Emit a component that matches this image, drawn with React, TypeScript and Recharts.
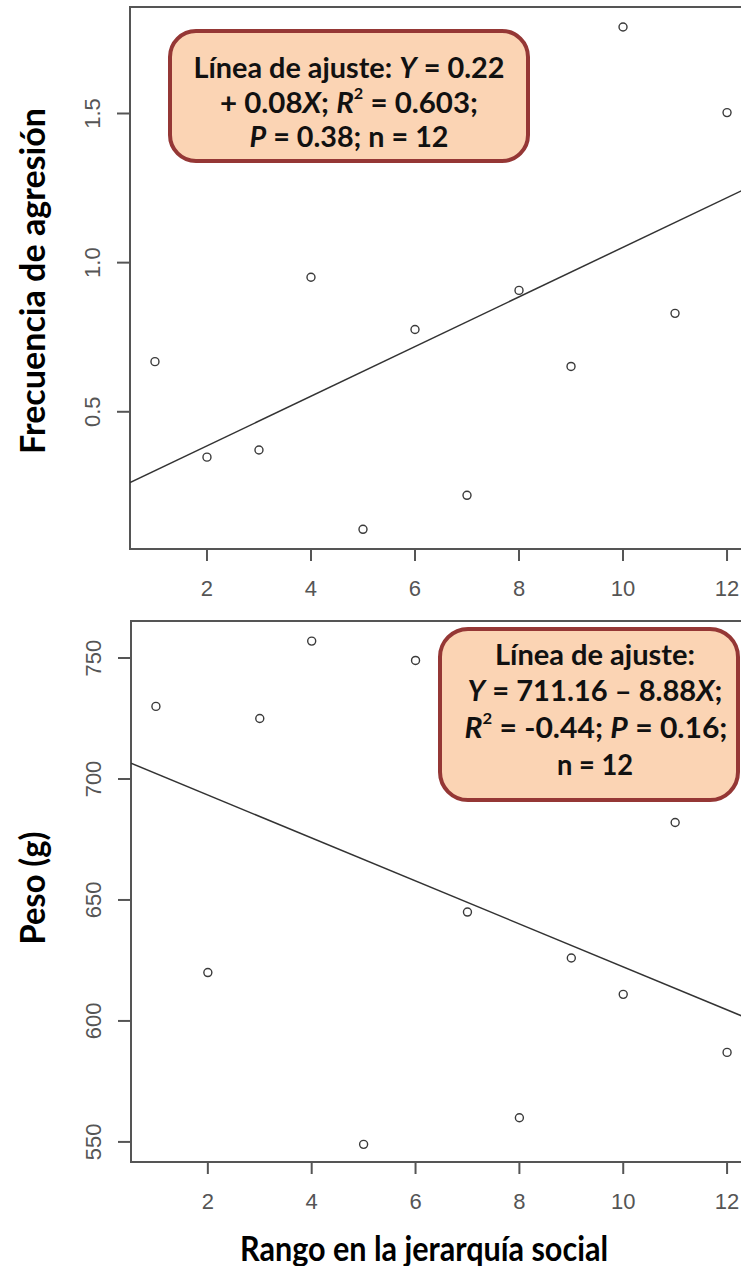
import React from "react";
import { ScatterChart, Scatter, XAxis, YAxis, ReferenceArea } from "recharts";

// Rango social (eje X) y valores
const ranks = [1, 2, 3, 4, 5, 6, 7, 8, 9, 10, 11, 12];
const aggression = [0.668, 0.348, 0.372, 0.951, 0.106, 0.776, 0.22, 0.907, 0.652, 1.79, 0.83, 1.503];
const weight = [730, 620, 725, 757, 549, 749, 645, 560, 626, 611, 682, 587];

const xTicks = [2, 4, 6, 8, 10, 12];
const aggressionTicks = [0.5, 1.0, 1.5];
const weightTicks = [550, 600, 650, 700, 750];

const xDomain: [number, number] = [0.52, 12.48];
const aggressionDomain: [number, number] = [0.04, 1.857];
const weightDomain: [number, number] = [541.7, 765.3];

const TICK_FONT = "'Liberation Sans', Arial, sans-serif";
const TITLE_FONT = "Lato, 'Open Sans', sans-serif";
const FRAME = "#555";
const INK = "#3a3a3a";

// recta de mínimos cuadrados
function leastSquares(xs: number[], ys: number[]) {
  const n = xs.length;
  const mx = xs.reduce((s, v) => s + v, 0) / n;
  const my = ys.reduce((s, v) => s + v, 0) / n;
  let sxy = 0;
  let sxx = 0;
  xs.forEach((x, i) => {
    sxy += (x - mx) * (ys[i] - my);
    sxx += (x - mx) * (x - mx);
  });
  const b = sxy / sxx;
  return { a: my - b * mx, b };
}

const XTick = (props: any) => {
  const { x, y, payload } = props;
  return (
    <text x={x} y={y + 25} textAnchor="middle" dominantBaseline="central" fontFamily={TICK_FONT} fontSize={22} fill="#555">
      {payload.value}
    </text>
  );
};

const makeYTick = (digits: number) => (props: any) => {
  const { x, y, payload } = props;
  const cx = x - 22;
  return (
    <text
      x={cx}
      y={y}
      transform={`rotate(-90, ${cx}, ${y})`}
      textAnchor="middle"
      dominantBaseline="central"
      fontFamily={TICK_FONT}
      fontSize={22}
      fill="#555"
    >
      {Number(payload.value).toFixed(digits)}
    </text>
  );
};

const OpenDot = (props: any) => {
  const { cx, cy } = props;
  return <circle cx={cx} cy={cy} r={4} fill="none" stroke={INK} strokeWidth={1.4} />;
};

const NoDot = () => <g />;

function Panel({
  ys,
  yDomain,
  yTicks,
  digits,
  height,
  top,
  xAxisHeight,
  yAxisWidth,
}: {
  ys: number[];
  yDomain: [number, number];
  yTicks: number[];
  digits: number;
  height: number;
  top: number;
  xAxisHeight: number;
  yAxisWidth: number;
}) {
  const points = ranks.map((x, i) => ({ x, y: ys[i] }));
  const { a, b } = leastSquares(ranks, ys);
  const fitLine = xDomain.map((x) => ({ x, y: a + b * x }));
  return (
    <ScatterChart width={760} height={height} margin={{ top, right: 8, bottom: 0, left: 0 }}>
      <XAxis
        type="number"
        dataKey="x"
        domain={xDomain}
        ticks={xTicks}
        allowDataOverflow
        axisLine={false}
        tickLine={{ stroke: FRAME, strokeWidth: 2 }}
        tickSize={12}
        height={xAxisHeight}
        tick={<XTick />}
      />
      <YAxis
        type="number"
        dataKey="y"
        domain={yDomain}
        ticks={yTicks}
        allowDataOverflow
        axisLine={false}
        tickLine={{ stroke: FRAME, strokeWidth: 2 }}
        tickSize={13}
        width={yAxisWidth}
        tick={makeYTick(digits)}
      />
      <ReferenceArea
        x1={xDomain[0]}
        x2={xDomain[1]}
        y1={yDomain[0]}
        y2={yDomain[1]}
        fill="none"
        stroke={FRAME}
        strokeWidth={2}
        ifOverflow="visible"
      />
      <Scatter data={fitLine} line={{ stroke: "#333", strokeWidth: 1.5 }} shape={<NoDot />} isAnimationActive={false} />
      <Scatter data={points} shape={<OpenDot />} isAnimationActive={false} />
    </ScatterChart>
  );
}

const boxText = {
  fontFamily: TITLE_FONT,
  fontWeight: 700,
  fontSize: 29,
  fill: "#111",
  textAnchor: "middle" as const,
  dominantBaseline: "central" as const,
  lengthAdjust: "spacingAndGlyphs" as const,
};

const Sup = () => (
  <>
    <tspan fontSize={16} dy={-9}>2</tspan>
  </>
);

export default function App() {
  return (
    <div
      style={{
        position: "absolute",
        left: 0,
        top: 0,
        width: 741,
        height: 1266,
        overflow: "hidden",
        background: "#fff",
      }}
    >
      <div style={{ position: "absolute", left: 0, top: 0 }}>
        <Panel
          ys={aggression}
          yDomain={aggressionDomain}
          yTicks={aggressionTicks}
          digits={1}
          height={610}
          top={7}
          xAxisHeight={61}
          yAxisWidth={130}
        />
      </div>
      <div style={{ position: "absolute", left: 0, top: 600 }}>
        <Panel
          ys={weight}
          yDomain={weightDomain}
          yTicks={weightTicks}
          digits={0}
          height={666}
          top={21}
          xAxisHeight={104}
          yAxisWidth={131}
        />
      </div>
      <svg width={741} height={1266} style={{ position: "absolute", left: 0, top: 0, pointerEvents: "none" }}>
        {/* títulos de los ejes */}
        <text
          x={31}
          y={281}
          transform="rotate(-90, 31, 281)"
          textAnchor="middle"
          dominantBaseline="central"
          fontFamily={TITLE_FONT}
          fontWeight={700}
          fontSize={34}
          fill="#000"
          textLength={346}
          lengthAdjust="spacingAndGlyphs"
        >
          Frecuencia de agresión
        </text>
        <text
          x={31}
          y={888}
          transform="rotate(-90, 31, 888)"
          textAnchor="middle"
          dominantBaseline="central"
          fontFamily={TITLE_FONT}
          fontWeight={700}
          fontSize={34}
          fill="#000"
          textLength={113}
          lengthAdjust="spacingAndGlyphs"
        >
          Peso (g)
        </text>
        <text
          x={424}
          y={1247}
          textAnchor="middle"
          dominantBaseline="central"
          fontFamily={TITLE_FONT}
          fontWeight={700}
          fontSize={34}
          fill="#000"
          textLength={368}
          lengthAdjust="spacingAndGlyphs"
        >
          Rango en la jerarquía social
        </text>

        {/* recuadro de ajuste, panel superior */}
        <rect x={170} y={31} width={358} height={130} rx={26} fill="#fbd4b4" stroke="#953735" strokeWidth={4} />
        <text x={349} y={66} {...boxText} textLength={311}>
          Línea de ajuste: <tspan fontStyle="italic">Y</tspan> = 0.22
        </text>
        <text x={349} y={101} {...boxText} textLength={258}>
          + 0.08<tspan fontStyle="italic">X</tspan>; <tspan fontStyle="italic">R</tspan>
          <Sup />
          <tspan dy={9}> = 0.603;</tspan>
        </text>
        <text x={349} y={135} {...boxText} textLength={199}>
          <tspan fontStyle="italic">P</tspan> = 0.38; n = 12
        </text>

        {/* recuadro de ajuste, panel inferior */}
        <rect x={440} y={629} width={298} height={171} rx={28} fill="#fbd4b4" stroke="#953735" strokeWidth={4} />
        <text x={595} y={653} {...boxText} textLength={200}>
          Línea de ajuste:
        </text>
        <text x={595} y={689} {...boxText} textLength={255}>
          <tspan fontStyle="italic">Y</tspan> = 711.16 – 8.88<tspan fontStyle="italic">X</tspan>;
        </text>
        <text x={596} y={726} {...boxText} textLength={263}>
          <tspan fontStyle="italic">R</tspan>
          <Sup />
          <tspan dy={9}> = -0.44; </tspan>
          <tspan fontStyle="italic">P</tspan> = 0.16;
        </text>
        <text x={595} y={763} {...boxText} textLength={76}>
          n = 12
        </text>
      </svg>
    </div>
  );
}
